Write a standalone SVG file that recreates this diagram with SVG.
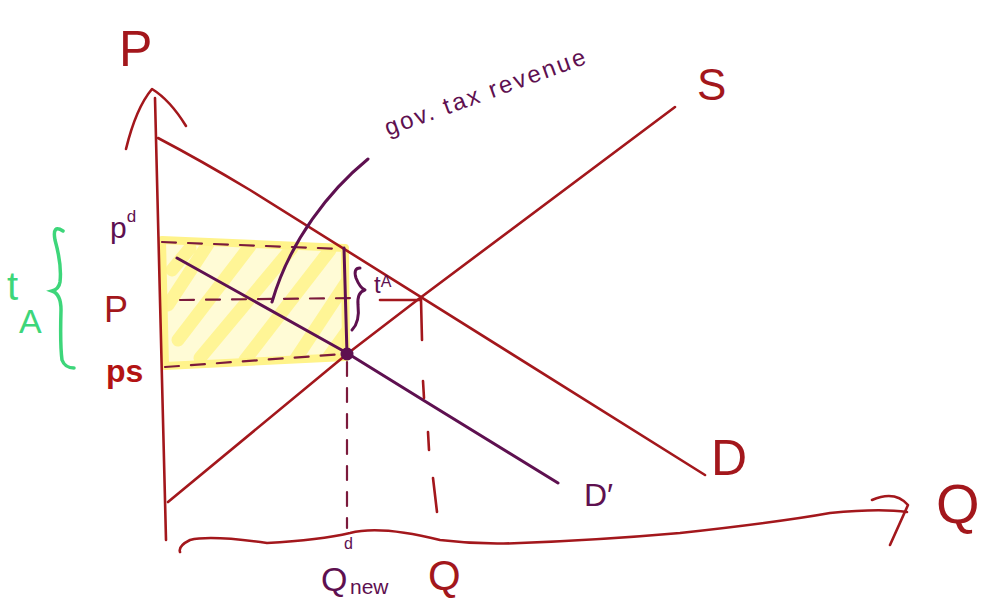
<svg xmlns="http://www.w3.org/2000/svg" width="991" height="602" viewBox="0 0 991 602">
<defs>
<style>
.red{stroke:#a3171c;fill:none;stroke-width:2.6;stroke-linecap:round;stroke-linejoin:round}
.pur{stroke:#5e1050;fill:none;stroke-width:3;stroke-linecap:round;stroke-linejoin:round}
.dash{stroke:#7b1a3c;fill:none;stroke-width:2.2;stroke-dasharray:14 12;stroke-linecap:round}
.grn{stroke:#3dd67a;fill:none;stroke-width:3.5;stroke-linecap:round}
.t{font-family:"Liberation Sans",Arial,sans-serif}
.tr{fill:#a3171c}
.tp{fill:#5e1050}
</style>
<clipPath id="rc"><polygon points="160,238 346,246 348,358 164,368"/></clipPath>
</defs>
<rect width="991" height="602" fill="#fff"/>

<g id="tax-area">
<polygon points="160,238 346,246 348,358 164,368" fill="#fffbd6"/>
<path clip-path="url(#rc)" d="M168,305 L208,244 M178,340 L250,246 M200,358 L292,248 M245,360 L330,250 M295,360 L348,280 M172,270 L190,248 M325,362 L348,330" stroke="#fff48f" stroke-width="13" fill="none" stroke-linecap="round" opacity="0.9"/>
<polygon points="162,240 345,248 346,357 165,366" fill="none" stroke="#fff38a" stroke-width="8" stroke-linejoin="round"/>
</g>

<g id="axes">
<path class="red" d="M155,98 L160,300 L166,540"/>
<path class="red" d="M126,149 Q136,108 152,89 Q170,100 186,126"/>
<path class="red" d="M180,552 Q178,546 190,540 Q210,535 267,543 Q320,540 350,533 Q380,525 440,540 Q480,545 520,543 Q600,540 680,533 Q780,522 830,513 Q880,508 907,512"/>
<path class="red" d="M872,500 Q895,490 908,505 L890,545"/>
<text class="t tr" x="119" y="66" font-size="50">P</text>
<text class="t tr" x="936" y="523" font-size="56">Q</text>
</g>

<g id="demand">
<path class="red" d="M158,138 Q200,160 250,190 L705,475"/>
<text class="t tr" x="711" y="475" font-size="50">D</text>
</g>

<g id="supply">
<path class="red" d="M168,502 L347,354 L420,298 L675,107"/>
<text class="t tr" x="697" y="100" font-size="44">S</text>
</g>

<g id="demand-new">
<path class="pur" d="M177,258 L347,353 L423,400 L558,483"/>
<text class="t tp" x="584" y="506" font-size="32">D′</text>
</g>

<g id="guides">
<path class="dash" d="M162,242 L344,249"/>
<path class="dash" d="M180,300 L356,298"/>
<path class="dash" d="M165,367 L344,354"/>
<path class="red" d="M380,300 L420,300"/>
<path class="pur" d="M344,248 L347,354"/>
<path class="dash" d="M347,362 L347,528" stroke-dasharray="12 16"/>
<path class="red" d="M421,300 L422,340"/>
<path class="red" stroke-width="2" d="M423,381 L424,398 M428,432 L429,450 M433,478 L437,512"/>
<circle cx="347" cy="354" r="6.5" fill="#5e1050"/>
</g>

<g id="label-pd">
<text class="t tp" x="110" y="238" font-size="30">p<tspan font-size="17" dy="-16">d</tspan></text>
</g>
<g id="label-p">
<text class="t tr" x="104" y="322" font-size="36">P</text>
</g>
<g id="label-ps">
<text class="t" x="106" y="382" font-size="32" font-weight="bold" fill="#b31313">ps</text>
</g>

<g id="label-tA-green">
<path class="grn" d="M63,231 Q52,224 55,240 Q62,265 60,282 Q59,289 52,291 Q61,294 61,310 Q60,345 62,360 Q65,368 74,368"/>
<text class="t" x="7" y="300" font-size="40" fill="#3dd67a">t</text>
<text class="t" x="19" y="333" font-size="34" fill="#3dd67a">A</text>
</g>

<g id="label-tA-purple">
<path class="pur" stroke-width="2.4" d="M360,268 Q353,268 356,278 Q360,288 365,290 Q357,292 358,305 Q360,322 352,330"/>
<text class="t tp" x="374" y="293" font-size="24">t<tspan font-size="16" dy="-6">A</tspan></text>
</g>

<g id="label-qnew">
<text class="t tp" x="321" y="591" font-size="34">Q</text>
<text class="t tp" x="344" y="549" font-size="16">d</text>
<text class="t tp" x="350" y="594" font-size="21">new</text>
</g>
<g id="label-q">
<text class="t tr" x="428" y="590" font-size="42">Q</text>
</g>

<g id="annotation">
<text class="t tp" x="388" y="136" font-size="24" transform="rotate(-20 388 136)" textLength="212" lengthAdjust="spacing">gov. tax revenue</text>
</g>

<g id="connectors">
<path class="pur" stroke-width="2.6" d="M368,159 C330,190 290,240 272,302"/>
</g>
</svg>
